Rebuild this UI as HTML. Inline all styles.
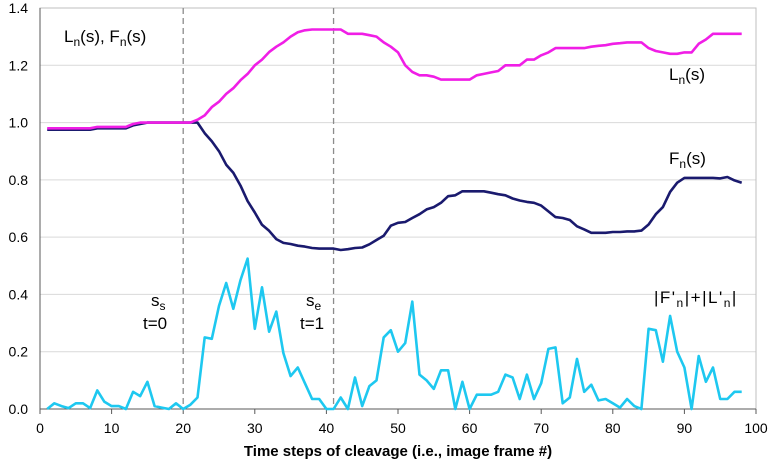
<!DOCTYPE html>
<html><head><meta charset="utf-8"><style>
body{margin:0;background:#fff;font-family:"Liberation Sans",sans-serif}
svg text{font-family:"Liberation Sans",sans-serif}
</style></head><body>
<svg id="c" width="769" height="461" xmlns="http://www.w3.org/2000/svg"></svg>
<script>
const xTicks=[0,10,20,30,40,50,60,70,80,90,100];
const yTicks=[0,0.2,0.4,0.6,0.8,1.0,1.2,1.4];
const seriesL=[0.98,0.98,0.98,0.98,0.98,0.98,0.98,0.985,0.985,0.985,0.985,0.985,0.995,1.0,1.0,1.0,1.0,1.0,1.0,1.0,1.0,1.01,1.025,1.054,1.073,1.1,1.12,1.148,1.17,1.2,1.22,1.246,1.265,1.28,1.3,1.315,1.322,1.325,1.325,1.325,1.325,1.325,1.31,1.31,1.31,1.305,1.3,1.28,1.265,1.245,1.2,1.177,1.165,1.165,1.16,1.15,1.15,1.15,1.15,1.15,1.165,1.17,1.175,1.18,1.2,1.2,1.2,1.22,1.22,1.235,1.245,1.26,1.26,1.26,1.26,1.26,1.265,1.268,1.27,1.275,1.277,1.28,1.28,1.28,1.26,1.25,1.245,1.24,1.24,1.245,1.245,1.275,1.29,1.31,1.31,1.31,1.31,1.31];
const seriesF=[0.975,0.975,0.975,0.975,0.975,0.975,0.975,0.98,0.98,0.98,0.98,0.98,0.99,0.995,1.0,1.0,1.0,1.0,1.0,1.0,1.0,1.0,0.963,0.935,0.9,0.853,0.825,0.78,0.726,0.686,0.643,0.622,0.593,0.58,0.576,0.57,0.567,0.562,0.56,0.56,0.56,0.555,0.558,0.562,0.564,0.575,0.59,0.605,0.64,0.65,0.653,0.667,0.68,0.697,0.705,0.72,0.743,0.746,0.76,0.76,0.76,0.76,0.755,0.75,0.746,0.735,0.728,0.723,0.72,0.71,0.69,0.67,0.667,0.66,0.638,0.627,0.615,0.615,0.615,0.618,0.618,0.62,0.62,0.623,0.644,0.68,0.705,0.758,0.79,0.807,0.807,0.807,0.807,0.807,0.805,0.81,0.798,0.79];
const seriesD=[0,0.02,0.01,0.003,0.02,0.02,0.003,0.065,0.025,0.01,0.01,0,0.06,0.045,0.095,0.01,0.005,0,0.02,0,0.015,0.04,0.25,0.245,0.36,0.44,0.35,0.45,0.525,0.28,0.425,0.27,0.34,0.195,0.115,0.145,0.09,0.035,0.035,0,0,0.04,0,0.11,0.01,0.08,0.1,0.25,0.275,0.2,0.23,0.375,0.12,0.1,0.07,0.135,0.135,0,0.095,0,0.05,0.05,0.05,0.06,0.12,0.11,0.035,0.12,0.035,0.09,0.21,0.215,0.02,0.04,0.175,0.06,0.085,0.03,0.035,0.02,0.005,0.035,0.01,0,0.28,0.275,0.165,0.325,0.2,0.145,0,0.185,0.095,0.145,0.035,0.035,0.06,0.06];
const markers=[20,41];
const L0=40,R0=756,T0=8,B0=409;
function X(v){return L0+(R0-L0)*v/100;}
function Y(v){return B0-(B0-T0)*v/1.4;}
const svg=document.getElementById('c');const NS='http://www.w3.org/2000/svg';
function el(t,a,p){const e=document.createElementNS(NS,t);for(const k in a)e.setAttribute(k,a[k]);(p||svg).appendChild(e);return e;}
yTicks.forEach(v=>{if(v>0){const g=el('line',{x1:L0,x2:R0,y1:Y(v),y2:Y(v),stroke:'#d9d9d9','stroke-width':1});

}
const t=el('text',{x:28,y:Y(v)+5,'text-anchor':'end','font-size':14,fill:'#000'});t.textContent=v.toFixed(1);

});
el('rect',{x:L0,y:T0,width:R0-L0,height:B0-T0,fill:'none',stroke:'#bfbfbf','stroke-width':1});
const ya=el('line',{x1:L0,x2:L0,y1:T0,y2:B0,stroke:'#595959','stroke-width':1});


const xa=el('line',{x1:L0,x2:R0,y1:B0,y2:B0,stroke:'#595959','stroke-width':1});


xTicks.forEach(v=>{el('line',{x1:X(v),x2:X(v),y1:B0,y2:B0+5,stroke:'#595959'});
const t=el('text',{x:X(v),y:B0+24,'text-anchor':'middle','font-size':14,fill:'#000'});t.textContent=v;

});
markers.forEach(v=>{const m=el('line',{x1:X(v),x2:X(v),y1:T0,y2:B0,stroke:'#8c8c8c','stroke-width':1.3,'stroke-dasharray':'6,4'});

});
function line(arr,color,name){const d=arr.map((v,i)=>(i?'L':'M')+X(i+1).toFixed(1)+','+Y(v).toFixed(1)).join('');
const p=el('path',{d:d,fill:'none',stroke:color,'stroke-width':2.6,'stroke-linejoin':'round'});

}
line(seriesD,'#1ec8f0','derivative-sum-line');
line(seriesF,'#1a1a6e','fn-line');
line(seriesL,'#f01ee6','ln-line');
function txt(x,y,html,name,extra){const t=el('text',Object.assign({x:x,y:y,'font-size':17,fill:'#000'},extra||{}));t.innerHTML=html;

return t;}
const sub='<tspan font-size="12" dy="4">n</tspan><tspan dy="-4">';
txt(64,42,'L'+sub+'(s), F</tspan>'+sub+'(s)</tspan>','y-axis-title');
txt(669,80,'L'+sub+'(s)</tspan>','ln-label');
txt(669,164,'F'+sub+'(s)</tspan>','fn-label');
txt(151,306,'s<tspan font-size="12" dy="4">s</tspan>','ss-label');
txt(143,329,'t=0','t0-label');
txt(306,306,'s<tspan font-size="12" dy="4">e</tspan>','se-label');
txt(300,329,'t=1','t1-label');
txt(654,303,'|F\''+sub+'|+|L\'</tspan>'+sub+'|</tspan>','derivative-label',{'letter-spacing':'1.5'});
txt(398,456,'Time steps of cleavage (i.e., image frame #)','x-axis-title',{'text-anchor':'middle','font-weight':'bold','font-size':15});
</script>
</body></html>
